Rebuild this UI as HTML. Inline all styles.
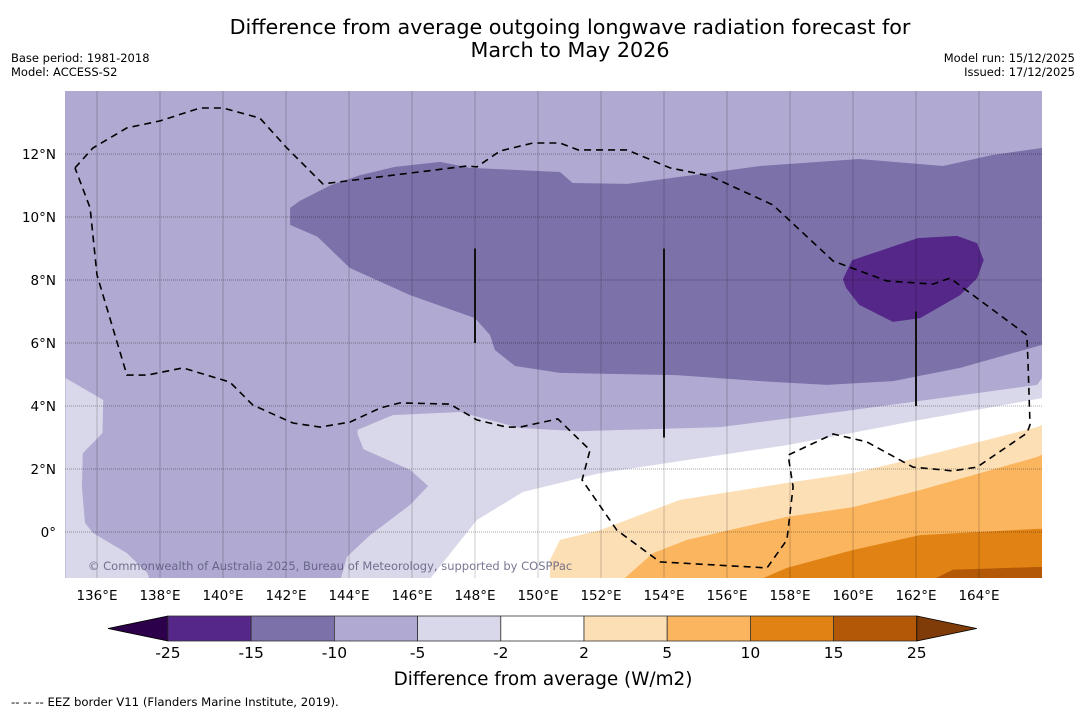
<!DOCTYPE html>
<html><head><meta charset="utf-8">
<style>
html,body{margin:0;padding:0;background:#fff;}
body{width:1085px;height:713px;overflow:hidden;font-family:"Liberation Sans","DejaVu Sans",sans-serif;}
svg text{font-family:"DejaVu Sans","Liberation Sans",sans-serif;}
</style></head>
<body>
<svg id="chart" width="1085" height="713" viewBox="0 0 1085 713" xmlns="http://www.w3.org/2000/svg">
<text x="570" y="34" font-size="20.7" text-anchor="middle" fill="#000">Difference from average outgoing longwave radiation forecast for</text>
<text x="570" y="57" font-size="20.7" text-anchor="middle" fill="#000">March to May 2026</text>
<text x="11" y="62" font-size="11.5">Base period: 1981-2018</text>
<text x="11" y="76" font-size="11.5">Model: ACCESS-S2</text>
<text x="1075" y="62" font-size="11.5" text-anchor="end">Model run: 15/12/2025</text>
<text x="1075" y="76" font-size="11.5" text-anchor="end">Issued: 17/12/2025</text>
<defs><clipPath id="mapclip"><rect x="65" y="91" width="977" height="487"/></clipPath></defs>
<g id="map" clip-path="url(#mapclip)"></g>
<g id="axes"></g>
<g id="cbar"></g>
<text x="543" y="685" font-size="18.4" text-anchor="middle">Difference from average (W/m2)</text>
<text x="11" y="706" font-size="11.7">--  --  -- EEZ border V11 (Flanders Marine Institute, 2019).</text>
</svg>
<script>
// ---- data ----
const lonTicks = [136,138,140,142,144,146,148,150,152,154,156,158,160,162,164];
const latTicks = [0,2,4,6,8,10,12];
const cbarLevels = ["-25","-15","-10","-5","-2","2","5","10","15","25"];
const cbarColors = ["#542788","#7d71aa","#b0a9d1","#d8d8ea","#ffffff","#fddfb6","#fbb55f","#e08214","#b35806"];
const lavenderWest = [[135,4.89],[136.2,4.19],[136.17,3.14],[135.55,2.5],[135.52,1.43],[135.62,0.29],[135.87,-0.03],[136.95,-0.67],[137.6,-1.3],[137.7,-1.6],[135,-1.6]];
const lavenderEast = [[143.71,-1.6],[143.93,-0.79],[144.67,-0.1],[145.94,0.86],[146.51,1.46],[145.94,1.97],[144.46,2.63],[144.27,3.11],[144.27,3.24],[145.39,3.71],[147.52,3.81],[149.43,3.3],[151.3,3.2],[155.78,3.33],[159.97,3.87],[165.84,4.67],[166,4.89],[166,-1.6]];
const whiteZone = [[146.48,-1.6],[148.06,0.38],[149.52,1.27],[151.97,1.87],[157.9,2.76],[162.13,3.56],[166,4.25],[166,-1.6]];
const orange2to5 = [[150.38,-1.6],[150.38,-0.89],[150.7,-0.25],[151.97,0.06],[154.5,1.02],[157.9,1.56],[160.0,1.87],[162.13,2.38],[165.84,3.33],[166,3.4],[166,-1.6]];
const orange5to10 = [[152.6,-1.6],[153.65,-0.67],[154.73,-0.25],[157.9,0.48],[160.0,0.79],[162.13,1.33],[165.84,2.38],[166,2.45],[166,-1.6]];
const orange10to15 = [[156.83,-1.6],[157.9,-1.14],[160.0,-0.57],[162.13,-0.1],[165.84,0.1],[166,0.1],[166,-1.6]];
const orange15to25 = [[162.35,-1.6],[163.17,-1.2],[165.84,-1.11],[166,-1.11],[166,-1.6]];
const purple15to10 = [[142.13,10.29],[142.44,10.51],[143.4,11.0],[144.35,11.33],[145.46,11.59],[146.9,11.75],[147.84,11.56],[150.7,11.43],[151.1,11.08],[152.83,11.05],[154.92,11.33],[157.05,11.62],[160.2,11.84],[162.86,11.62],[164.44,11.97],[166,12.19],[166,5.94],[163.4,5.21],[161.27,4.79],[159.17,4.67],[157.05,4.79],[154.4,4.98],[150.7,5.05],[149.27,5.27],[148.63,5.78],[148.48,6.25],[148.0,6.79],[145.94,7.52],[144.03,8.38],[143.0,9.37],[142.13,9.75]];
const purple25to15 = [[159.97,8.63],[162.06,9.33],[163.3,9.4],[163.94,9.17],[164.15,8.63],[163.94,8.06],[163.4,7.52],[162.13,6.79],[161.27,6.67],[160.2,7.21],[159.78,7.75],[159.68,8.03]];
const eezLine = [[135.3,11.56],[135.87,12.19],[136.95,12.83],[138.0,13.05],[139.27,13.46],[140.0,13.46],[141.17,13.14],[142.03,12.19],[143.17,11.05],[147.75,11.62],[148.06,11.59],[148.8,12.1],[149.84,12.35],[150.7,12.35],[151.27,12.13],[152.83,12.13],[154.19,11.56],[155.46,11.3],[157.46,10.38],[159.37,8.6],[161.07,7.97],[162.54,7.87],[163.08,8.06],[165.52,6.25],[165.56,5.3],[165.62,3.4],[165.52,3.14],[163.94,2.06],[163.17,1.94],[161.9,2.06],[160.44,2.86],[159.37,3.11],[157.94,2.44],[158.1,1.43],[157.9,-0.25],[157.27,-1.14],[153.87,-0.95],[152.5,0.06],[151.4,1.65],[151.65,2.6],[150.63,3.59],[149.43,3.33],[149.0,3.33],[148.06,3.56],[147.2,4.06],[145.62,4.1],[145.0,3.94],[144.03,3.49],[143.08,3.33],[142.22,3.46],[140.95,4.03],[140.22,4.76],[138.73,5.21],[137.6,4.98],[136.95,4.98],[136.0,8.16],[135.78,10.29],[135.3,11.56]];
const borderSegments = [[148,6,9],[154,3,9],[162,4,7]];

// ---- axes functions ----
const X0=65.5, PX=31.5, LON0=135, LAT0=14, Y0=91;
function xs(lon){return X0+(lon-LON0)*PX;}
function ys(lat){return Y0+(LAT0-lat)*PX;}
const NS="http://www.w3.org/2000/svg";
function mk(tag,attrs,parent){const e=document.createElementNS(NS,tag);for(const k in attrs)e.setAttribute(k,attrs[k]);parent.appendChild(e);return e;}
function pts(arr){return arr.map(p=>xs(p[0]).toFixed(1)+","+ys(p[1]).toFixed(1)).join(" ");}

const map=document.getElementById("map");
const bg=mk("rect",{x:65,y:91,width:977,height:487,fill:"#b0a9d1"},map);


const layers=[
 [lavenderWest,"#d8d8ea","region-minus5-to-minus2-west"],
 [lavenderEast,"#d8d8ea","region-minus5-to-minus2-east"],
 [whiteZone,"#ffffff","region-minus2-to-2"],
 [orange2to5,"#fddfb6","region-2-to-5"],
 [orange5to10,"#fbb55f","region-5-to-10"],
 [orange10to15,"#e08214","region-10-to-15"],
 [orange15to25,"#b35806","region-15-to-25"],
 [purple15to10,"#7d71aa","region-minus15-to-minus10"],
 [purple25to15,"#542788","region-minus25-to-minus15"]
];
layers.forEach(l=>{
 const p=mk("polygon",{points:pts(l[0]),fill:l[1]},map);
 
 
});
lonTicks.forEach(lon=>{
 const g=mk("line",{x1:xs(lon),x2:xs(lon),y1:91,y2:578,stroke:"#000","stroke-opacity":"0.2","stroke-width":1},map);
 
 
});
latTicks.forEach(lat=>{
 const g=mk("line",{x1:65,x2:1042,y1:ys(lat),y2:ys(lat),stroke:"#000","stroke-opacity":"0.35","stroke-width":1,"stroke-dasharray":"1,1"},map);
 
 
});
borderSegments.forEach(b=>{
 const l=mk("line",{x1:xs(b[0]),x2:xs(b[0]),y1:ys(b[2]),y2:ys(b[1]),stroke:"#111","stroke-width":2},map);
 
 
});
const eez=mk("polyline",{points:pts(eezLine),fill:"none",stroke:"#000","stroke-width":1.6,"stroke-dasharray":"7,5"},map);


const cp=mk("text",{x:88,y:570,"font-size":11.5,fill:"#555577","fill-opacity":"0.8"},map);
cp.textContent="© Commonwealth of Australia 2025, Bureau of Meteorology, supported by COSPPac";



const axes=document.getElementById("axes");
lonTicks.forEach(lon=>{
 const t=mk("text",{x:xs(lon),y:600,"font-size":13.5,"text-anchor":"middle"},axes);
 t.textContent=lon+"°E";
 
 
});
latTicks.forEach(lat=>{
 const t=mk("text",{x:56,y:ys(lat)+5,"font-size":13.5,"text-anchor":"end"},axes);
 t.textContent=lat===0?"0°":lat+"°N";
 
 
});

const cb=document.getElementById("cbar");
const CB0=168, CBW=83.2, CBY=616, CBH=25;
const lt=mk("polygon",{points:`108,${CBY+CBH/2} ${CB0},${CBY} ${CB0},${CBY+CBH}`,fill:"#2d004b",stroke:"#000","stroke-width":0.8},cb);


cbarColors.forEach((c,i)=>{
 const r=mk("rect",{x:CB0+i*CBW,y:CBY,width:CBW,height:CBH,fill:c,stroke:"#333","stroke-width":0.8},cb);
 
 
});
const endX=CB0+cbarColors.length*CBW;
const rt=mk("polygon",{points:`${endX},${CBY} ${endX+60},${CBY+CBH/2} ${endX},${CBY+CBH}`,fill:"#7f3b08",stroke:"#000","stroke-width":0.8},cb);


cbarLevels.forEach((v,i)=>{
 const t=mk("text",{x:CB0+i*CBW,y:658,"font-size":15.5,"text-anchor":"middle"},cb);
 t.textContent=v;
 
 
});
</script>
</body></html>
